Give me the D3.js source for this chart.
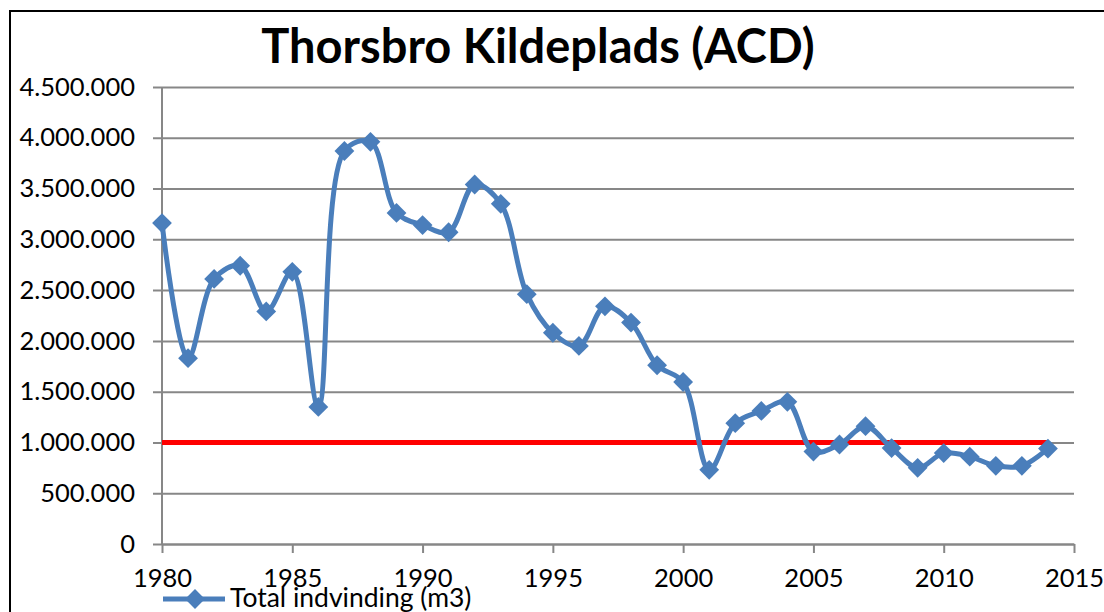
<!DOCTYPE html>
<html>
<head>
<meta charset="utf-8">
<script src="https://cdn.jsdelivr.net/npm/d3@7"></script>
<style>
  body { margin: 0; background: #fff; }
  svg { display: block; font-family: Lato, "Open Sans", sans-serif; }
</style>
</head>
<body>
<div id="chart"></div>
<script>
// data
const years = d3.range(1980, 2015);
const totalIndvinding = [
  3160000, 1830000, 2610000, 2740000, 2290000, 2680000, 1350000, 3870000, 3960000, 3260000,
  3140000, 3070000, 3540000, 3350000, 2460000, 2080000, 1950000, 2340000, 2180000, 1760000,
  1595000, 730000, 1190000, 1310000, 1400000, 910000, 980000, 1160000, 945000, 750000,
  895000, 860000, 770000, 770000, 940000
];
const limitValue = 1000000;
const limitYears = [1980, 2014];
const yTicks = d3.range(0, 4500001, 500000);
const xTicks = d3.range(1980, 2016, 5);
const titleText = "Thorsbro Kildeplads (ACD)";
const legendText = "Total indvinding (m3)";

const width = 1104, height = 612;
const margin = { top: 87, right: 30, bottom: 68, left: 162 };
const blue = "#4a7ebb";
const grey = "#878787";

const svg = d3.select("#chart").append("svg")
  .attr("width", width)
  .attr("height", height);

// outer frame (only top and left edges visible)
svg.append("path")
  .attr("d", "M10,612 V11 H1104")
  .attr("fill", "none")
  .attr("stroke", "#000")
  .attr("stroke-width", 2);

const x = d3.scaleLinear().domain([1980, 2015]).range([margin.left, width - margin.right]);
const y = d3.scaleLinear().domain([0, 4500000]).range([height - margin.bottom, margin.top]);

const fmt = d => d3.format(",")(d).replace(/,/g, ".");

// y axis with gridlines
const yAxis = svg.append("g")
  .attr("transform", `translate(${margin.left},0)`)
  .call(d3.axisLeft(y).tickValues(yTicks).tickFormat(fmt)
    .tickSize(-(width - margin.right - margin.left)).tickPadding(27));
yAxis.select(".domain").remove();
yAxis.selectAll(".tick line")
  .attr("x1", -9)
  .attr("stroke", grey)
  .attr("stroke-width", 2);
yAxis.selectAll(".tick text")
  .attr("font-size", 25.5)
  .attr("fill", "#000");
yAxis.attr("font-family", null);

// x axis
const xAxis = svg.append("g")
  .attr("transform", `translate(0,${y(0)})`)
  .call(d3.axisBottom(x).tickValues(xTicks).tickFormat(d3.format("d"))
    .tickSize(9).tickPadding(16).tickSizeOuter(0));
xAxis.select(".domain").attr("stroke", grey).attr("stroke-width", 2);
xAxis.selectAll(".tick line").attr("stroke", grey).attr("stroke-width", 2);
xAxis.selectAll(".tick text")
  .attr("font-size", 25.5)
  .attr("fill", "#000");
xAxis.attr("font-family", null);

// vertical axis line
svg.append("line")
  .attr("x1", margin.left).attr("x2", margin.left)
  .attr("y1", y(4500000)).attr("y2", y(0))
  .attr("stroke", grey)
  .attr("stroke-width", 2);

// red limit line
svg.append("line")
  .attr("x1", x(limitYears[0])).attr("x2", x(limitYears[1]))
  .attr("y1", y(limitValue)).attr("y2", y(limitValue))
  .attr("stroke", "#ff0000")
  .attr("stroke-width", 5);

const series = years.map((yr, i) => ({ year: yr, value: totalIndvinding[i] }));

const line = d3.line()
  .x(d => x(d.year))
  .y(d => y(d.value))
  .curve(d3.curveCatmullRom.alpha(0.5));

svg.append("path")
  .datum(series)
  .attr("d", line)
  .attr("fill", "none")
  .attr("stroke", blue)
  .attr("stroke-width", 5)
  .attr("stroke-linejoin", "round");

const diamond = d3.symbol().type(d3.symbolDiamond2).size(250);
svg.append("g")
  .selectAll("path")
  .data(series)
  .join("path")
  .attr("d", diamond)
  .attr("transform", d => `translate(${x(d.year)},${y(d.value)})`)
  .attr("fill", blue);

// title
svg.append("text")
  .attr("x", 538)
  .attr("y", 63)
  .attr("text-anchor", "middle")
  .attr("font-size", 47)
  .attr("font-weight", "bold")
  .text(titleText);

// legend
const legend = svg.append("g").attr("transform", "translate(163,599)");
legend.append("line")
  .attr("x1", 0).attr("x2", 62)
  .attr("stroke", blue)
  .attr("stroke-width", 5);
legend.append("path")
  .attr("d", diamond)
  .attr("transform", "translate(32,0)")
  .attr("fill", blue);
legend.append("text")
  .attr("x", 67)
  .attr("y", 8)
  .attr("font-size", 26.5)
  .text(legendText);
</script>
</body>
</html>
